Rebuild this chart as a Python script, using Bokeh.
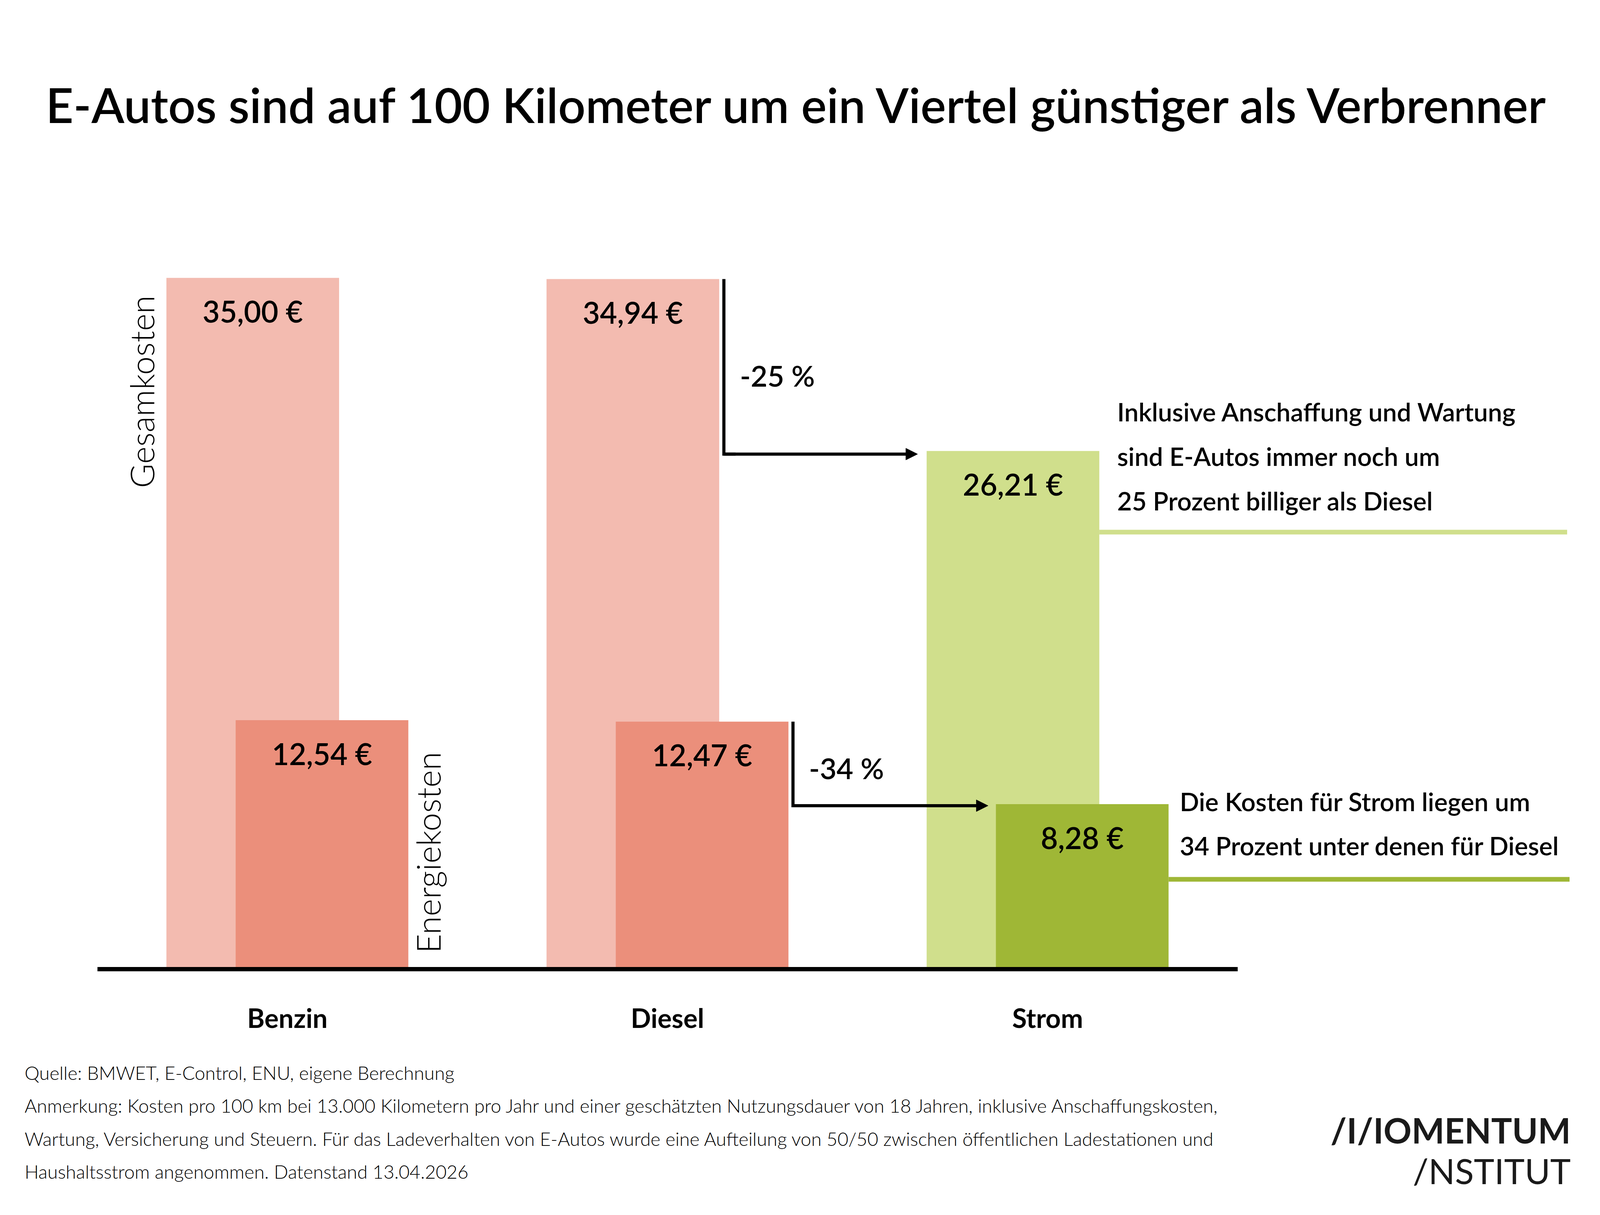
import math
from bokeh.plotting import figure
from bokeh.models import (ColumnDataSource, Range1d, LinearAxis, FixedTicker,
                          Label, Arrow, NormalHead)
from bokeh.transform import dodge
from bokeh.core.properties import value
from bokeh.embed import file_html
from bokeh.resources import INLINE

# ---------------- data ----------------
categories = ["Benzin", "Diesel", "Strom"]
total_cost = [35.00, 34.94, 26.21]      # Gesamtkosten pro 100 km (EUR)
energy_cost = [12.54, 12.47, 8.28]      # Energiekosten pro 100 km (EUR)
series_names = ["Gesamkosten", "Energiekosten"]
title_text = "E-Autos sind auf 100 Kilometer um ein Viertel günstiger als Verbrenner"
note_total = ["Inklusive Anschaffung und Wartung",
              "sind E-Autos immer noch um",
              "25 Prozent billiger als Diesel"]
note_energy = ["Die Kosten für Strom liegen um",
               "34 Prozent unter denen für Diesel"]
footer_lines = [
    "Quelle: BMWET, E-Control, ENU, eigene Berechnung",
    "Anmerkung: Kosten pro 100 km bei 13.000 Kilometern pro Jahr und einer geschätzten Nutzungsdauer von 18 Jahren, inklusive Anschaffungskosten,",
    "Wartung, Versicherung und Steuern. Für das Ladeverhalten von E-Autos wurde eine Aufteilung von 50/50 zwischen öffentlichen Ladestationen und",
    "Haushaltsstrom angenommen. Datenstand 13.04.2026",
]
logo_lines = ["/I/IOMENTUM", "/NSTITUT"]

light_colors = ["#f3bbb0", "#f3bbb0", "#d0df8c"]
dark_colors = ["#eb8f7b", "#eb8f7b", "#9fb736"]

# ---------------- layout constants ----------------
W, H = 4080, 3095            # the browser viewport is 4096 px wide
KX = 4096 / 5291             # horizontal scale relative to the reference
PPU = 50.43                  # pixels per euro
PXU = 1257.0 * KX            # pixels per category
BASE = 2476                  # pixel row of value 0
AXIS_ROW = 2481              # pixel row of the axis line centre
SHIFT = 0.34                 # baseline correction (em)

F_MED = "Lato Semibold, Lato"
F_LIGHT = "Lato Light, Lato"

def fx(rx): return rx * KX - 8
def fy(ry): return ry - 8

X_START = 0.5 - fx(960) / PXU
X_END = X_START + W / PXU

def xd(px): return X_START + px / PXU
def yd(py): return (BASE - py) / PPU
def dx(px): return px / PXU
def dy(px): return px / PPU
def up(fs): return dy(SHIFT * fs)

def fmt_eur(v):
    return f"{v:.2f}".replace(".", ",") + " €"

p = figure(width=W, height=H, x_range=Range1d(X_START, X_END),
           y_range=Range1d(yd(H), yd(0)), x_axis_type=None, y_axis_type=None,
           output_backend="svg", toolbar_location=None,
           min_border_left=0, min_border_right=0, min_border_top=0,
           min_border_bottom=0)
p.outline_line_color = None
p.background_fill_color = "white"
p.border_fill_color = "white"

xs = [i + 0.5 for i in range(len(categories))]
BW = dx(571 * KX)
OFF = dx(114.5 * KX)
VAL_FS = 76
LBL = dy(111) - up(VAL_FS)

src = ColumnDataSource(dict(
    x=xs, total=total_cost, energy=energy_cost,
    light=light_colors, dark=dark_colors,
    total_lbl=[fmt_eur(v) for v in total_cost],
    energy_lbl=[fmt_eur(v) for v in energy_cost],
    total_y=[v - LBL for v in total_cost],
    energy_y=[v - LBL for v in energy_cost],
))

p.vbar(x=dodge("x", -OFF), top="total", bottom=0, width=BW,
       fill_color="light", line_color=None, source=src)
p.vbar(x=dodge("x", OFF), top="energy", bottom=0, width=BW,
       fill_color="dark", line_color=None, source=src)

for ycol, tcol, o in (("total_y", "total_lbl", -OFF),
                      ("energy_y", "energy_lbl", OFF)):
    p.text(x=dodge("x", o), y=ycol, text=tcol, source=src,
           text_font=value(F_MED), text_font_size=f"{VAL_FS}px",
           text_align="center", text_baseline="alphabetic", text_color="black")

# category axis (drawn inside the frame at the zero line)
ax = LinearAxis(ticker=FixedTicker(ticks=xs),
                major_label_overrides={x: c for x, c in zip(xs, categories)},
                bounds=(0, len(categories)), fixed_location=yd(AXIS_ROW),
                axis_line_width=11, axis_line_color="black",
                axis_line_cap="butt",
                major_tick_line_color=None, minor_tick_line_color=None,
                major_label_text_font="Lato", major_label_text_font_style="bold",
                major_label_text_font_size="68px", major_label_standoff=77,
                major_label_text_color="black")
p.add_layout(ax, "below")

# series labels (rotated)
ROT_FS = 85
CAP = 0.7165
p.add_layout(Label(x=xs[0] - OFF - BW / 2 - dx(46 * KX) - dx(SHIFT * ROT_FS),
                   y=total_cost[0] - dy(45),
                   text=series_names[0], angle=math.pi / 2, text_align="right",
                   text_baseline="alphabetic", text_font=F_LIGHT,
                   text_font_size=f"{ROT_FS}px", text_color="black"))
p.add_layout(Label(x=xs[0] + OFF + BW / 2 + dx(18 + CAP * ROT_FS) - dx(SHIFT * ROT_FS),
                   y=dy(36),
                   text=series_names[1], angle=math.pi / 2, text_align="left",
                   text_baseline="alphabetic", text_font=F_LIGHT,
                   text_font_size=f"{ROT_FS}px", text_color="black"))

# arrows with percentage changes
PCT_FS = 74
def change_arrow(top_val, target_val, x_from, x_to_edge, gap_v, gap_tip, drop, frac):
    xv = x_from + dx(gap_v * KX)
    yt = target_val - dy(drop)
    xtip = x_to_edge - dx(gap_tip * KX)
    p.line(x=[xv, xv, xv + dx(30)], y=[top_val, yt, yt], line_width=8,
           line_color="black", line_join="miter", line_cap="butt")
    p.add_layout(Arrow(end=NormalHead(size=30, fill_color="black",
                                      line_color="black", line_width=1),
                       x_start=xv, y_start=yt, x_end=xtip, y_end=yt,
                       line_width=8, line_color="black"))
    pct = round((target_val / top_val - 1) * 100)
    p.add_layout(Label(x=xv + dx(53 * KX), y=top_val - frac * (top_val - yt) + up(PCT_FS),
                       text=f"{pct} %", text_font=F_MED,
                       text_font_size=f"{PCT_FS}px", text_align="left",
                       text_baseline="alphabetic", text_color="black"))

change_arrow(total_cost[1], total_cost[2], xs[1] - OFF + BW / 2,
             xs[2] - OFF - BW / 2, 15.5, 30, 8, 0.607)
change_arrow(energy_cost[1], energy_cost[2], xs[1] + OFF + BW / 2,
             xs[2] + OFF - BW / 2, 15, 26, 4, 0.668)

# annotation lines and notes on the right
strom_light_right = xs[2] - OFF + BW / 2
strom_dark_right = xs[2] + OFF + BW / 2
p.segment(x0=[strom_light_right], x1=[xd(fx(5192))], y0=[yd(fy(1370))],
          y1=[yd(fy(1370))], line_width=12, line_color=light_colors[2],
          line_cap="butt")
p.segment(x0=[strom_dark_right], x1=[xd(fx(5200))], y0=[yd(fy(2259))],
          y1=[yd(fy(2259))], line_width=12, line_color=dark_colors[2],
          line_cap="butt")

NOTE_FS = 65
for i, line in enumerate(note_total):
    p.add_layout(Label(x=strom_light_right + dx(59 * KX),
                       y=yd(fy(1084) + 114 * i) + up(NOTE_FS),
                       text=line, text_font=F_MED,
                       text_font_size=f"{NOTE_FS}px", text_align="left",
                       text_baseline="alphabetic", text_color="black"))
for i, line in enumerate(note_energy):
    p.add_layout(Label(x=strom_dark_right + dx(37 * KX),
                       y=yd(fy(2082) + 113 * i) + up(NOTE_FS),
                       text=line, text_font=F_MED,
                       text_font_size=f"{NOTE_FS}px", text_align="left",
                       text_baseline="alphabetic", text_color="black"))

# title
TITLE_FS = 123
p.add_layout(Label(x=xd(fx(2652)), y=yd(fy(317)) + up(TITLE_FS), text=title_text,
                   text_font=F_MED,
                   text_font_size=f"{TITLE_FS}px", text_align="center",
                   text_baseline="alphabetic", text_color="black"))

# footer
FOOT_FS = 48
for i, line in enumerate(footer_lines):
    p.add_layout(Label(x=xd(fx(91)), y=yd(fy(2770) + 84.5 * i) + up(FOOT_FS),
                       text=line, text_font=F_LIGHT, text_font_size=f"{FOOT_FS}px",
                       text_align="left", text_baseline="alphabetic",
                       text_color="black"))

# logo
LOGO_FS = 89
for i, line in enumerate(logo_lines):
    p.add_layout(Label(x=xd(fx(5204)), y=yd(fy(2931) + 104 * i) + up(LOGO_FS),
                       text=line, text_font="Lato",
                       text_font_style="bold" if i == 0 else "normal",
                       text_font_size=f"{LOGO_FS}px", text_align="right",
                       text_baseline="alphabetic", text_color="#1a1a1a"))

open("out.html", "w").write(file_html(p, INLINE))
